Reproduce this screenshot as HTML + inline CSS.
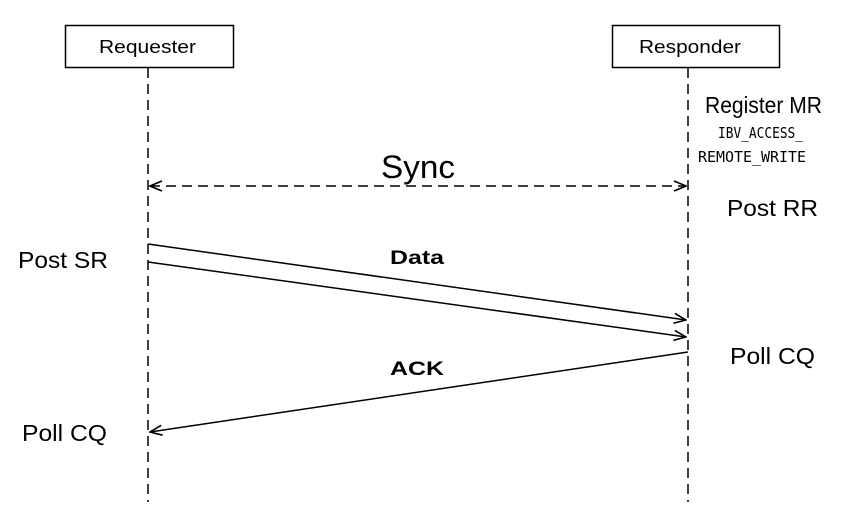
<!DOCTYPE html>
<html><head><meta charset="utf-8"><style>
html,body{margin:0;padding:0;background:#fff;}
svg{display:block;}
text{font-family:"Liberation Sans",Arial,sans-serif;fill:#000;}
text.m{font-family:"DejaVu Sans Mono","Liberation Mono",monospace;}
</style></head><body>
<svg width="848" height="520" viewBox="0 0 848 520" xmlns="http://www.w3.org/2000/svg">
<defs>
<marker id="a" markerWidth="14" markerHeight="12" refX="13" refY="6" orient="auto" markerUnits="userSpaceOnUse">
<path d="M1,1 L13,6 L1,11" fill="none" stroke="#000" stroke-width="1.6"/>
</marker>
<marker id="s" markerWidth="14" markerHeight="12" refX="1" refY="6" orient="auto" markerUnits="userSpaceOnUse">
<path d="M13,1 L1,6 L13,11" fill="none" stroke="#000" stroke-width="1.6"/>
</marker>
</defs>
<rect x="65.5" y="25.5" width="168" height="42" fill="#fff" stroke="#000" stroke-width="1.5"/>
<rect x="612.5" y="25.5" width="167" height="42" fill="#fff" stroke="#000" stroke-width="1.5"/>
<text x="99" y="53" font-size="18" textLength="97" lengthAdjust="spacingAndGlyphs">Requester</text>
<text x="639" y="53" font-size="18" textLength="102" lengthAdjust="spacingAndGlyphs">Responder</text>
<line x1="148" y1="68" x2="148" y2="502" stroke="#000" stroke-width="1.5" stroke-dasharray="10,6"/>
<line x1="688" y1="68" x2="688" y2="502" stroke="#000" stroke-width="1.5" stroke-dasharray="10,6"/>
<text x="705" y="113" font-size="23" textLength="117" lengthAdjust="spacingAndGlyphs">Register MR</text>
<text class="m" x="718" y="138" font-size="15" textLength="85" lengthAdjust="spacingAndGlyphs">IBV_ACCESS_</text>
<text class="m" x="698" y="162" font-size="15" textLength="108" lengthAdjust="spacingAndGlyphs">REMOTE_WRITE</text>
<text x="381" y="178" font-size="32" textLength="74" lengthAdjust="spacingAndGlyphs">Sync</text>
<line x1="150" y1="186" x2="686" y2="186" stroke="#000" stroke-width="1.5" stroke-dasharray="10,6" marker-start="url(#s)" marker-end="url(#a)"/>
<text x="727" y="216" font-size="23" textLength="91" lengthAdjust="spacingAndGlyphs">Post RR</text>
<text x="18" y="268" font-size="23" textLength="90" lengthAdjust="spacingAndGlyphs">Post SR</text>
<text x="390" y="264" font-size="19" font-weight="bold" textLength="54" lengthAdjust="spacingAndGlyphs">Data</text>
<line x1="148" y1="244" x2="686" y2="320" stroke="#000" stroke-width="1.5" marker-end="url(#a)"/>
<line x1="148" y1="262" x2="686" y2="337" stroke="#000" stroke-width="1.5" marker-end="url(#a)"/>
<text x="730" y="364" font-size="23" textLength="85" lengthAdjust="spacingAndGlyphs">Poll CQ</text>
<text x="390" y="375" font-size="19" font-weight="bold" textLength="54" lengthAdjust="spacingAndGlyphs">ACK</text>
<line x1="688" y1="352" x2="150" y2="432" stroke="#000" stroke-width="1.5" marker-end="url(#a)"/>
<text x="22" y="441" font-size="23" textLength="85" lengthAdjust="spacingAndGlyphs">Poll CQ</text>
</svg>
</body></html>
